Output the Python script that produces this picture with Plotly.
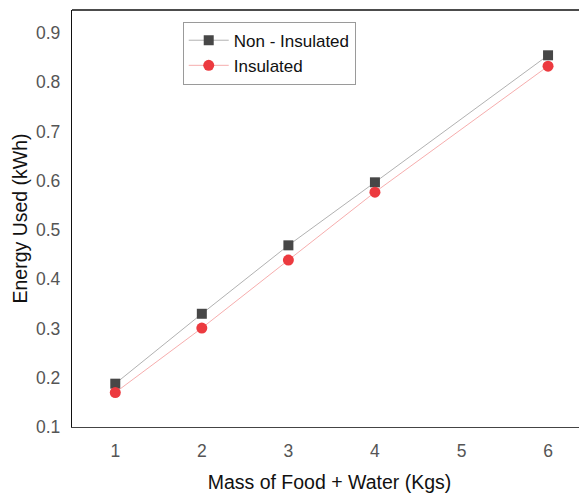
import plotly.graph_objects as go

mass = [1, 2, 3, 4, 6]
non_insulated = [0.188, 0.330, 0.469, 0.597, 0.855]
insulated = [0.170, 0.301, 0.439, 0.577, 0.833]
x_ticks = [1, 2, 3, 4, 5, 6]
y_ticks = [0.1, 0.2, 0.3, 0.4, 0.5, 0.6, 0.7, 0.8, 0.9]

FONT = "Liberation Sans, Arial, sans-serif"

fig = go.Figure()
fig.add_trace(go.Scatter(
    x=mass, y=non_insulated, name="Non - Insulated", mode="lines+markers",
    line=dict(color="#8f8f8f", width=0.7),
    marker=dict(symbol="square", size=10, color="#474747"),
))
fig.add_trace(go.Scatter(
    x=mass, y=insulated, name="Insulated", mode="lines+markers",
    line=dict(color="#f28a8a", width=0.7),
    marker=dict(symbol="circle", size=11, color="#ec3a3f"),
))

# page body has an 8px margin, so the figure is 8px smaller and offset
fig.update_layout(
    width=579, height=485,
    margin=dict(l=64, r=0, t=2, b=66),
    plot_bgcolor="white", paper_bgcolor="white",
    font=dict(family=FONT, color="#222"),
    showlegend=True,
    legend=dict(
        x=0.215, y=0.972, xanchor="left", yanchor="top",
        bgcolor="white", bordercolor="#9a9a9a", borderwidth=1,
        font=dict(size=17, color="#111"),
        tracegroupgap=0, itemwidth=40,
    ),
    xaxis=dict(
        range=[0.5, 6.45], tickvals=x_ticks, ticktext=[str(v) for v in x_ticks],
        showgrid=False, zeroline=False, showline=True, linecolor="#444", linewidth=1.3,
        mirror=False, ticks="", ticklabelstandoff=8,
        tickfont=dict(size=17.5, color="#555"),
        title=dict(text="Mass of Food + Water (Kgs)", font=dict(size=19.5, color="#111"), standoff=15),
    ),
    yaxis=dict(
        range=[0.1, 0.947], tickvals=y_ticks, ticktext=[f"{v:.1f}" for v in y_ticks],
        showgrid=False, zeroline=False, showline=True, linecolor="#111", linewidth=1.3,
        ticks="", ticklabelstandoff=7,
        tickfont=dict(size=17.5, color="#555"),
        title=dict(text="Energy Used (kWh)", font=dict(size=19.5, color="#111"), standoff=3),
    ),
)
# top border
fig.add_shape(type="line", xref="paper", yref="paper", x0=0, x1=1, y0=1, y1=1,
              line=dict(color="#111", width=1.3))

fig.write_html("out.html")
